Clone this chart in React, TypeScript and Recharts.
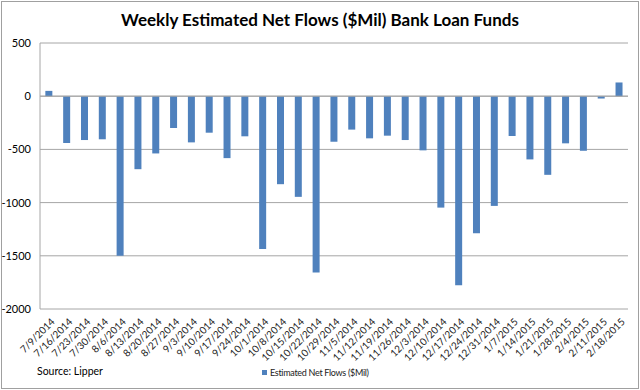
import React from "react";
import {
  BarChart,
  Bar,
  XAxis,
  YAxis,
  CartesianGrid,
  ReferenceLine,
  Legend,
} from "recharts";

const weeks = [
  "7/9/2014", "7/16/2014", "7/23/2014", "7/30/2014", "8/6/2014", "8/13/2014",
  "8/20/2014", "8/27/2014", "9/3/2014", "9/10/2014", "9/17/2014", "9/24/2014",
  "10/1/2014", "10/8/2014", "10/15/2014", "10/22/2014", "10/29/2014", "11/5/2014",
  "11/12/2014", "11/19/2014", "11/26/2014", "12/3/2014", "12/10/2014", "12/17/2014",
  "12/24/2014", "12/31/2014", "1/7/2015", "1/14/2015", "1/21/2015", "1/28/2015",
  "2/4/2015", "2/11/2015", "2/18/2015",
];

const netFlows = [
  50, -440, -412, -405, -1500, -686, -538, -299, -434, -343, -582, -377,
  -1437, -827, -946, -1657, -428, -314, -396, -371, -412, -509, -1047, -1777,
  -1289, -1031, -374, -594, -739, -443, -513, -22, 129,
];

const yTicks = [500, 0, -500, -1000, -1500, -2000];

const FONT = "Lato, 'Open Sans', sans-serif";
const BLUE = "#4F81BD";
const GRID = "#a6a6a6";

const data = weeks.map((week, i) => ({ week, flow: netFlows[i] }));

function XTick(props: any) {
  const { x, y, payload } = props;
  return (
    <g transform={`translate(${x + 4},${y + 3})`}>
      <text
        textAnchor="end"
        transform="rotate(-45)"
        fontSize={10}
        fontFamily={FONT}
        fill="#222"
        dy="0.35em"
      >
        {payload.value}
      </text>
    </g>
  );
}

function LegendBox(props: any) {
  const item = props.payload?.[0];
  if (!item) return null;
  return (
    <div style={{ display: "flex", alignItems: "center", fontFamily: FONT }}>
      <span
        style={{
          display: "inline-block",
          width: 5,
          height: 5,
          background: BLUE,
          marginRight: 3,
        }}
      />
      <span style={{ fontSize: 9, letterSpacing: -0.3, color: "#222" }}>
        {item.value}
      </span>
    </div>
  );
}

export default function App() {
  return (
    <div
      style={{
        position: "absolute",
        left: 0,
        top: 0,
        width: 640,
        height: 390,
        background: "#fff",
        fontFamily: FONT,
      }}
    >
      <div
        style={{
          position: "absolute",
          left: 1,
          top: 1,
          width: 636,
          height: 386,
          border: "1px solid #a0a0a0",
          pointerEvents: "none",
        }}
      />
      <div
        style={{
          position: "absolute",
          left: 0,
          top: 9,
          width: 640,
          textAlign: "center",
          fontSize: 17,
          fontWeight: 700,
          color: "#000",
        }}
      >
        Weekly Estimated Net Flows ($Mil) Bank Loan Funds
      </div>
      <div
        style={{
          position: "absolute",
          left: 37,
          top: 365,
          fontSize: 10.5,
          color: "#000",
        }}
      >
        Source: Lipper
      </div>
      <BarChart
        width={640}
        height={390}
        data={data}
        margin={{ top: 43, right: 12, bottom: 18, left: 0 }}
        barCategoryGap="30%"
      >
        <CartesianGrid vertical={false} stroke={GRID} />
        <XAxis
          dataKey="week"
          interval={0}
          axisLine={false}
          tickLine={false}
          height={52}
          tick={<XTick />}
        />
        <YAxis
          domain={[-2000, 500]}
          ticks={yTicks}
          width={40}
          axisLine={{ stroke: GRID }}
          tickLine={false}
          tickSize={0}
          tickMargin={9}
          tick={{ fontSize: 11, fill: "#000", fontFamily: FONT }}
        />
        <ReferenceLine y={0} stroke={GRID} />
        <Legend
          content={<LegendBox />}
          wrapperStyle={{
            position: "absolute",
            left: 262,
            top: 367,
            width: 160,
          }}
        />
        <Bar
          dataKey="flow"
          name="Estimated Net Flows ($Mil)"
          fill={BLUE}
          isAnimationActive={false}
        />
      </BarChart>
    </div>
  );
}
